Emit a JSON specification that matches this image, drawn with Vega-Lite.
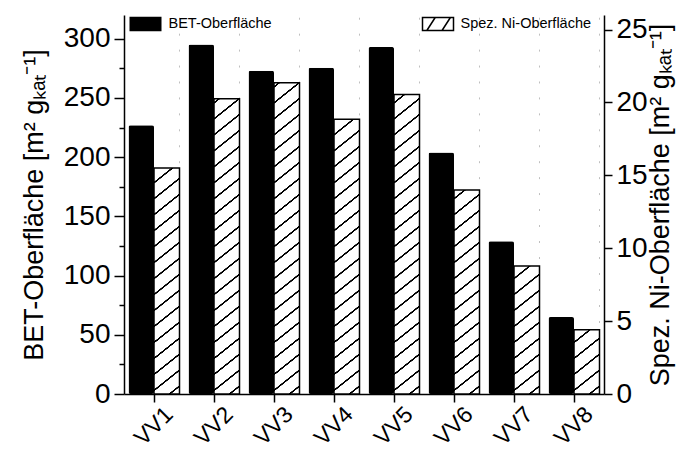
{
  "$schema": "https://vega.github.io/schema/vega-lite/v6.json",
  "width": 480,
  "height": 379,
  "autosize": {"type": "none"},
  "padding": {"left": 124, "top": 15, "right": 88, "bottom": 59},
  "background": "white",
  "config": {
    "view": {"stroke": null},
    "font": "Liberation Sans",
    "axis": {
      "domainColor": "black", "tickColor": "black", "labelColor": "black", "titleColor": "black",
      "domainWidth": 1.5, "tickWidth": 1.5, "grid": false,
      "labelFont": "Liberation Sans", "titleFont": "Liberation Sans", "titleFontWeight": "normal"
    }
  },
  "data": {"values": [
    {"vv": "VV1", "bet": 227, "ni": 15.5},
    {"vv": "VV2", "bet": 295, "ni": 20.25},
    {"vv": "VV3", "bet": 273, "ni": 21.35},
    {"vv": "VV4", "bet": 275.5, "ni": 18.85},
    {"vv": "VV5", "bet": 293, "ni": 20.55},
    {"vv": "VV6", "bet": 204, "ni": 14.0},
    {"vv": "VV7", "bet": 129, "ni": 8.78},
    {"vv": "VV8", "bet": 65, "ni": 4.41}
  ]},
  "encoding": {
    "x": {
      "field": "vv", "type": "nominal",
      "scale": {"paddingInner": 0.15, "paddingOuter": 0.075},
      "axis": {"title": null, "labelAngle": -45, "labelAlign": "center", "labelBaseline": "middle",
               "labelFontSize": 23, "labelPadding": 24, "tickSize": 8}
    }
  },
  "layer": [
    {
      "mark": {"type": "bar", "cornerRadius": 2},
      "encoding": {
        "xOffset": {"datum": "BET-Oberfläche", "type": "nominal",
                    "scale": {"domain": ["BET-Oberfläche", "Spez. Ni-Oberfläche"], "paddingInner": 0, "paddingOuter": 0}},
        "y": {
          "field": "bet", "type": "quantitative",
          "scale": {"domain": [0, 320], "nice": false},
          "axis": {
            "orient": "left",
            "values": [0, 25, 50, 75, 100, 125, 150, 175, 200, 225, 250, 275, 300],
            "labelExpr": "datum.value % 50 === 0 ? datum.label : ''",
            "tickSize": {"condition": {"test": "datum.value % 50 === 0", "value": 10}, "value": 5},
            "labelFontSize": 28, "labelPadding": 4,
            "title": "BET-Oberfläche [m² gₖₐₜ⁻¹]", "titleFontSize": 27, "titlePadding": 15
          }
        },
        "color": {
          "datum": "BET-Oberfläche", "type": "nominal",
          "scale": {"range": ["black"]},
          "legend": {
            "title": null, "orient": "none", "legendX": 4.5, "legendY": -8, "padding": 0,
            "symbolType": "M-1,-0.45H1V0.45H-1Z", "symbolSize": 1024,
            "labelFont": "Liberation Sans", "labelFontSize": 14.5, "labelColor": "black", "labelOffset": 6
          }
        }
      }
    },
    {
      "layer": [
        {
          "mark": {
            "type": "bar",
            "color": {
              "gradient": "linear", "x1": 0, "y1": 0, "x2": 0.0565, "y2": 1.0508,
              "stops": [
                {"offset": 0.017, "color": "white"}, {"offset": 0.018, "color": "black"}, {"offset": 0.022, "color": "black"}, {"offset": 0.023, "color": "white"},
                {"offset": 0.057, "color": "white"}, {"offset": 0.058, "color": "black"}, {"offset": 0.062, "color": "black"}, {"offset": 0.063, "color": "white"},
                {"offset": 0.097, "color": "white"}, {"offset": 0.098, "color": "black"}, {"offset": 0.102, "color": "black"}, {"offset": 0.103, "color": "white"},
                {"offset": 0.137, "color": "white"}, {"offset": 0.138, "color": "black"}, {"offset": 0.142, "color": "black"}, {"offset": 0.143, "color": "white"},
                {"offset": 0.177, "color": "white"}, {"offset": 0.178, "color": "black"}, {"offset": 0.182, "color": "black"}, {"offset": 0.183, "color": "white"},
                {"offset": 0.217, "color": "white"}, {"offset": 0.218, "color": "black"}, {"offset": 0.222, "color": "black"}, {"offset": 0.223, "color": "white"},
                {"offset": 0.257, "color": "white"}, {"offset": 0.258, "color": "black"}, {"offset": 0.262, "color": "black"}, {"offset": 0.263, "color": "white"},
                {"offset": 0.297, "color": "white"}, {"offset": 0.298, "color": "black"}, {"offset": 0.302, "color": "black"}, {"offset": 0.303, "color": "white"},
                {"offset": 0.337, "color": "white"}, {"offset": 0.338, "color": "black"}, {"offset": 0.342, "color": "black"}, {"offset": 0.343, "color": "white"},
                {"offset": 0.377, "color": "white"}, {"offset": 0.378, "color": "black"}, {"offset": 0.382, "color": "black"}, {"offset": 0.383, "color": "white"},
                {"offset": 0.417, "color": "white"}, {"offset": 0.418, "color": "black"}, {"offset": 0.422, "color": "black"}, {"offset": 0.423, "color": "white"},
                {"offset": 0.457, "color": "white"}, {"offset": 0.458, "color": "black"}, {"offset": 0.462, "color": "black"}, {"offset": 0.463, "color": "white"},
                {"offset": 0.497, "color": "white"}, {"offset": 0.498, "color": "black"}, {"offset": 0.502, "color": "black"}, {"offset": 0.503, "color": "white"},
                {"offset": 0.537, "color": "white"}, {"offset": 0.538, "color": "black"}, {"offset": 0.542, "color": "black"}, {"offset": 0.543, "color": "white"},
                {"offset": 0.577, "color": "white"}, {"offset": 0.578, "color": "black"}, {"offset": 0.582, "color": "black"}, {"offset": 0.583, "color": "white"},
                {"offset": 0.617, "color": "white"}, {"offset": 0.618, "color": "black"}, {"offset": 0.622, "color": "black"}, {"offset": 0.623, "color": "white"},
                {"offset": 0.657, "color": "white"}, {"offset": 0.658, "color": "black"}, {"offset": 0.662, "color": "black"}, {"offset": 0.663, "color": "white"},
                {"offset": 0.697, "color": "white"}, {"offset": 0.698, "color": "black"}, {"offset": 0.702, "color": "black"}, {"offset": 0.703, "color": "white"},
                {"offset": 0.737, "color": "white"}, {"offset": 0.738, "color": "black"}, {"offset": 0.742, "color": "black"}, {"offset": 0.743, "color": "white"},
                {"offset": 0.777, "color": "white"}, {"offset": 0.778, "color": "black"}, {"offset": 0.782, "color": "black"}, {"offset": 0.783, "color": "white"},
                {"offset": 0.817, "color": "white"}, {"offset": 0.818, "color": "black"}, {"offset": 0.822, "color": "black"}, {"offset": 0.823, "color": "white"},
                {"offset": 0.857, "color": "white"}, {"offset": 0.858, "color": "black"}, {"offset": 0.862, "color": "black"}, {"offset": 0.863, "color": "white"},
                {"offset": 0.897, "color": "white"}, {"offset": 0.898, "color": "black"}, {"offset": 0.902, "color": "black"}, {"offset": 0.903, "color": "white"},
                {"offset": 0.937, "color": "white"}, {"offset": 0.938, "color": "black"}, {"offset": 0.942, "color": "black"}, {"offset": 0.943, "color": "white"},
                {"offset": 0.977, "color": "white"}, {"offset": 0.978, "color": "black"}, {"offset": 0.982, "color": "black"}, {"offset": 0.983, "color": "white"}
              ]
            }
          },
          "encoding": {
            "xOffset": {"datum": "Spez. Ni-Oberfläche", "type": "nominal",
                        "scale": {"domain": ["BET-Oberfläche", "Spez. Ni-Oberfläche"], "paddingInner": 0, "paddingOuter": 0}},
            "y": {
              "datum": 0, "type": "quantitative",
              "scale": {"domain": [0, 26], "nice": false},
              "axis": {
                "orient": "right", "values": [0, 5, 10, 15, 20, 25], "tickSize": 8,
                "labelFontSize": 28, "labelPadding": 4,
                "title": "Spez. Ni-Oberfläche [m² gₖₐₜ⁻¹]", "titleFontSize": 27, "titlePadding": 0,
                "titleAngle": -90, "titleBaseline": "top"
              }
            },
            "y2": {"datum": 26}
          }
        },
        {
          "mark": {"type": "bar", "fill": "white", "stroke": null},
          "encoding": {
            "xOffset": {"datum": "Spez. Ni-Oberfläche", "type": "nominal",
                        "scale": {"domain": ["BET-Oberfläche", "Spez. Ni-Oberfläche"], "paddingInner": 0, "paddingOuter": 0}},
            "y": {"field": "ni", "type": "quantitative"},
            "y2": {"datum": 26}
          }
        },
        {
          "mark": {"type": "bar", "fill": "transparent", "strokeWidth": 1.5},
          "encoding": {
            "xOffset": {"datum": "Spez. Ni-Oberfläche", "type": "nominal",
                        "scale": {"domain": ["BET-Oberfläche", "Spez. Ni-Oberfläche"], "paddingInner": 0, "paddingOuter": 0}},
            "y": {"field": "ni", "type": "quantitative"},
            "stroke": {
              "datum": "Spez. Ni-Oberfläche", "type": "nominal",
              "scale": {"range": ["black"]},
              "legend": {
                "title": null, "orient": "none", "legendX": 297.5, "legendY": -7.5, "padding": 0,
                "symbolType": "M-1,-0.42H1V0.42H-1Z M-0.72,0.42L-0.18,-0.42 M0.26,0.42L0.8,-0.42",
                "symbolSize": 961, "symbolStrokeWidth": 1.5,
                "labelFont": "Liberation Sans", "labelFontSize": 14.5, "labelColor": "black", "labelOffset": 6,
                "encode": {"symbols": {"update": {"fill": {"value": "white"}, "stroke": {"value": "black"}, "strokeWidth": {"value": 1.5}}}}
              }
            }
          }
        }
      ]
    }
  ],
  "resolve": {"scale": {"y": "independent", "color": "independent"}, "legend": {"color": "independent"}}
}
